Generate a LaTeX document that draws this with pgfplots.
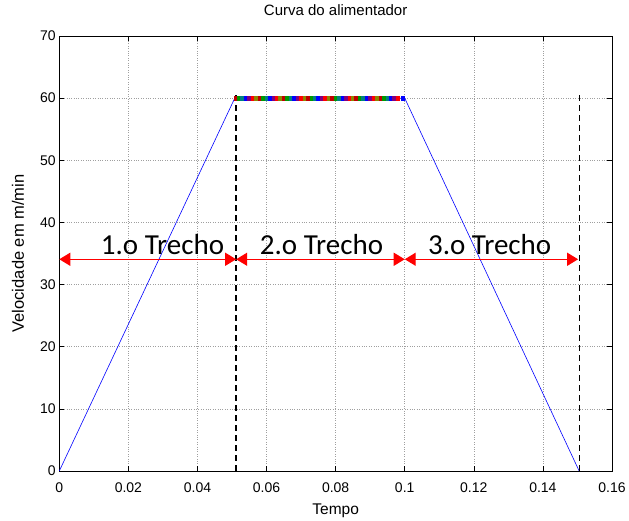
\documentclass[border=0pt]{standalone}
\usepackage{pgfplots}
\pgfplotsset{compat=1.18}
\usepackage{fontspec}
\setmainfont{Liberation Sans}
\newfontfamily\calibri{Carlito}
\usetikzlibrary{arrows.meta}
\begin{document}
\begin{tikzpicture}
\begin{axis}[
  scale only axis,
  width=552.7pt, height=435pt,
  xmin=0, xmax=0.16, ymin=0, ymax=70,
  xtick={0,0.02,0.04,0.06,0.08,0.1,0.12,0.14,0.16},
  xticklabels={0,0.02,0.04,0.06,0.08,0.1,0.12,0.14,0.16},
  ytick={0,10,20,30,40,50,60,70},
  tick align=inside, tick pos=both,
  major tick length=5pt,
  grid=major,
  major grid style={gray!75, dotted, line width=0.5pt},
  axis line style={black, line width=0.9pt},
  tick style={black, line width=0.6pt},
  ticklabel style={font=\fontsize{14}{16}\selectfont},
  /pgf/number format/assume math mode=true,
  xticklabel style={anchor=base, yshift=-22pt},
  title={Curva do alimentador},
  title style={at={(axis description cs:0.5,1.046)}, anchor=center, font=\fontsize{15}{17}\selectfont},
  xlabel={Tempo},
  xlabel style={at={(axis description cs:0.5,-0.0989)}, anchor=base, font=\fontsize{15.5}{17}\selectfont},
  ylabel={Velocidade em m/min},
  ylabel style={at={(axis description cs:-0.0639,0.5)}, anchor=base, font=\fontsize{16.5}{18}\selectfont},
  clip=false,
]
% bounding box matching the reference margins
\path (axis description cs:-0.1073,-0.1034) rectangle (axis description cs:1.0308,1.0828);
% main curve
\addplot[blue, line width=0.6pt] coordinates {(0,0) (0.0508,60) (0.1,60) (0.1505,0)};
% coloured markers on the flat part
\addplot[scatter, only marks, scatter src=explicit symbolic, mark size=1.7pt,
  scatter/classes={
    a={mark=square*, red!75!black},
    b={mark=square*, green!60!black},
    c={mark=square*, teal},
    d={mark=square*, blue},
    e={mark=square*, violet},
    f={mark=square*, red},
    g={mark=square*, olive}
  }] coordinates {
  (0.051,60)[a] (0.052,60)[b] (0.053,60)[c] (0.054,60)[d] (0.055,60)[e] (0.056,60)[f] (0.057,60)[g]
  (0.058,60)[a] (0.059,60)[b] (0.060,60)[c] (0.061,60)[d] (0.062,60)[e] (0.063,60)[f] (0.064,60)[g]
  (0.065,60)[a] (0.066,60)[b] (0.067,60)[c] (0.068,60)[d] (0.069,60)[e] (0.070,60)[f] (0.071,60)[g]
  (0.072,60)[a] (0.073,60)[b] (0.074,60)[c] (0.075,60)[d] (0.076,60)[e] (0.077,60)[f] (0.078,60)[g]
  (0.079,60)[a] (0.080,60)[b] (0.081,60)[c] (0.082,60)[d] (0.083,60)[e] (0.084,60)[f] (0.085,60)[g]
  (0.086,60)[a] (0.087,60)[b] (0.088,60)[c] (0.089,60)[d] (0.090,60)[e] (0.091,60)[f] (0.092,60)[g]
  (0.093,60)[a] (0.094,60)[b] (0.095,60)[c] (0.096,60)[d] (0.097,60)[e] (0.098,60)[f] (0.0995,60)[d]
};
% dashed separators
\addplot[black, line width=1.6pt, dash pattern=on 6pt off 4pt] coordinates {(0.0512,0) (0.0512,60.8)};
\addplot[black, line width=1.6pt, dash pattern=on 6pt off 4pt] coordinates {(0.1506,0) (0.1506,60.8)};
% arrows
\addplot[red, line width=1.4pt, {Triangle[length=11pt,width=13pt]}-{Triangle[length=11pt,width=13pt]}] coordinates {(0,34.07) (0.0512,34.07)};
\addplot[red, line width=1.4pt, {Triangle[length=11pt,width=13pt]}-{Triangle[length=11pt,width=13pt]}] coordinates {(0.0512,34.07) (0.1,34.07)};
\addplot[red, line width=1.4pt, {Triangle[length=11pt,width=13pt]}-{Triangle[length=11pt,width=13pt]}] coordinates {(0.1,34.07) (0.1502,34.07)};
\node[font=\calibri\fontsize{29}{31}\selectfont, anchor=base, inner sep=0pt] at (axis cs:0.02988,34.76) {1.o Trecho};
\node[font=\calibri\fontsize{29}{31}\selectfont, anchor=base, inner sep=0pt] at (axis cs:0.0759,34.76) {2.o Trecho};
\node[font=\calibri\fontsize{29}{31}\selectfont, anchor=base, inner sep=0pt] at (axis cs:0.1246,34.76) {3.o Trecho};
\end{axis}
\end{tikzpicture}
\end{document}
